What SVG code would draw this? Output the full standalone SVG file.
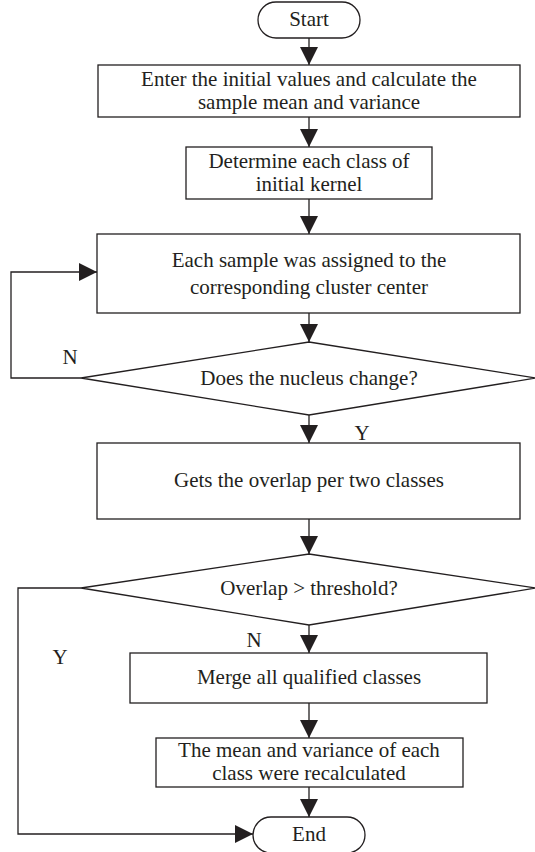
<svg xmlns="http://www.w3.org/2000/svg" width="535" height="852" viewBox="0 0 535 852">
  <style>
    .shape { fill: #ffffff; stroke: #231f20; stroke-width: 1.3; }
    .conn { fill: none; stroke: #231f20; stroke-width: 1.3; }
    .t { font-family: "Liberation Serif", "Times New Roman", serif; font-size: 21px; fill: #231f20; text-anchor: middle; }
  </style>
  <defs>
    <marker id="arrow" markerUnits="userSpaceOnUse" markerWidth="18" markerHeight="18" refX="18" refY="9" orient="auto">
      <path d="M0,0 L18,9 L0,18 Z" fill="#231f20"/>
    </marker>
  </defs>
  <rect width="535" height="852" fill="#ffffff"/>

  <g id="connectors">
    <line class="conn" x1="309" y1="38" x2="309" y2="65" marker-end="url(#arrow)"/>
    <line class="conn" x1="309" y1="117" x2="309" y2="147" marker-end="url(#arrow)"/>
    <line class="conn" x1="309" y1="199" x2="309" y2="234" marker-end="url(#arrow)"/>
    <line class="conn" x1="309" y1="313" x2="309" y2="342" marker-end="url(#arrow)"/>
    <line class="conn" x1="309" y1="415" x2="309" y2="443" marker-end="url(#arrow)"/>
    <line class="conn" x1="309" y1="519" x2="309" y2="554" marker-end="url(#arrow)"/>
    <line class="conn" x1="309" y1="625" x2="309" y2="653" marker-end="url(#arrow)"/>
    <line class="conn" x1="309" y1="703" x2="309" y2="738" marker-end="url(#arrow)"/>
    <line class="conn" x1="309" y1="787" x2="309" y2="817" marker-end="url(#arrow)"/>
    <polyline class="conn" points="81,378 11,378 11,272 97,272" marker-end="url(#arrow)"/>
    <polyline class="conn" points="81,588 18,588 18,834 253,834" marker-end="url(#arrow)"/>
    <text class="t" x="70" y="364">N</text>
    <text class="t" x="362" y="440">Y</text>
    <text class="t" x="254" y="647">N</text>
    <text class="t" x="60" y="664">Y</text>
  </g>

  <g id="start">
    <rect class="shape" x="258" y="2" width="102" height="36" rx="18" ry="18"/>
    <text class="t" x="309" y="26">Start</text>
  </g>

  <g id="enter-initial">
    <rect class="shape" x="98" y="65" width="422" height="52"/>
    <text class="t" x="309" y="86">Enter the initial values and calculate the</text>
    <text class="t" x="309" y="109">sample mean and variance</text>
  </g>

  <g id="determine-kernel">
    <rect class="shape" x="186" y="147" width="246" height="52"/>
    <text class="t" x="309" y="168">Determine each class of</text>
    <text class="t" x="309" y="191">initial kernel</text>
  </g>

  <g id="assign-samples">
    <rect class="shape" x="97" y="234" width="423" height="79"/>
    <text class="t" x="309" y="267">Each sample was assigned to the</text>
    <text class="t" x="309" y="294">corresponding cluster center</text>
  </g>

  <g id="nucleus-change">
    <polygon class="shape" points="309,342 536,378 309,415 81,378"/>
    <text class="t" x="309" y="385">Does the nucleus change?</text>
  </g>

  <g id="overlap">
    <rect class="shape" x="97" y="443" width="423" height="76"/>
    <text class="t" x="309" y="487">Gets the overlap per two classes</text>
  </g>

  <g id="threshold">
    <polygon class="shape" points="309,554 536,588 309,625 81,588"/>
    <text class="t" x="309" y="595">Overlap &gt; threshold?</text>
  </g>

  <g id="merge">
    <rect class="shape" x="130" y="653" width="357" height="50"/>
    <text class="t" x="309" y="684">Merge all qualified classes</text>
  </g>

  <g id="recalculate">
    <rect class="shape" x="156" y="738" width="307" height="49"/>
    <text class="t" x="309" y="757">The mean and variance of each</text>
    <text class="t" x="309" y="780">class were recalculated</text>
  </g>

  <g id="end">
    <rect class="shape" x="253" y="817" width="112" height="36" rx="18" ry="18"/>
    <text class="t" x="309" y="841">End</text>
  </g>
</svg>
